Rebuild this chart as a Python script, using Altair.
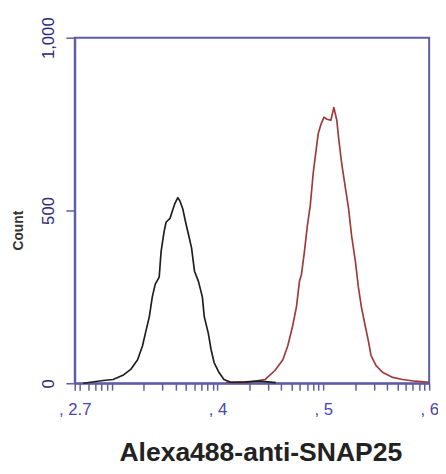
import altair as alt
import numpy as np
import pandas as pd

# log10 fluorescence intensity and event counts
black_x = [2.73, 2.919, 3.012, 3.105, 3.179, 3.244, 3.290, 3.318, 3.355, 3.383, 3.411, 3.448,
           3.466, 3.494, 3.513, 3.550, 3.568, 3.596, 3.624, 3.643, 3.670, 3.698, 3.726, 3.754,
           3.782, 3.819, 3.856, 3.874, 3.912, 3.939, 3.967, 4.014, 4.060, 4.125, 4.26, 4.40, 4.55]
black_y = [0, 8, 11, 23, 40, 68, 108, 145, 193, 250, 287, 307,
           381, 438, 466, 477, 494, 520, 537, 528, 506, 466, 429, 392,
           324, 295, 250, 193, 145, 97, 60, 31, 11, 3, 4, 6, 2]

red_x = [4.079, 4.264, 4.450, 4.542, 4.617, 4.663, 4.709, 4.746, 4.774, 4.793, 4.821, 4.849,
         4.876, 4.904, 4.932, 4.951, 4.978, 5.006, 5.034, 5.071, 5.099, 5.127, 5.146, 5.173,
         5.210, 5.238, 5.266, 5.303, 5.331, 5.359, 5.396, 5.424, 5.451, 5.498, 5.563, 5.656,
         5.748, 5.869, 6.0]
red_y = [3, 2, 11, 37, 68, 108, 165, 222, 295, 315, 381, 457,
         514, 608, 676, 722, 750, 770, 764, 761, 798, 761, 705, 636,
         562, 506, 429, 352, 278, 222, 165, 125, 80, 51, 31, 17,
         11, 6, 3]

x_min, x_max = 2.65, 6.0
y_ticks = [0, 500, 1000]
left_label = ", 2.7"

minor = [x_min] + [float(np.log10(m * 10.0 ** d)) for d in range(2, 6) for m in range(1, 10)
                   if x_min < np.log10(m * 10.0 ** d) < x_max - 1e-9] + [x_max]

df = pd.concat([
    pd.DataFrame({"x": red_x, "y": red_y, "s": "red"}),
    pd.DataFrame({"x": black_x, "y": black_y, "s": "black"}),
])

axis_col = "#5c5ca8"

xscale = alt.Scale(domain=[x_min, x_max], nice=False, zero=False)
yscale = alt.Scale(domain=[0, 1000], nice=False)

label_expr = ("datum.value < 2.66 ? '" + left_label + "' : "
              "((datum.value > 3.5 && abs(datum.value - round(datum.value)) < 0.001) ? ', ' + round(datum.value) : '')")

xaxis = alt.Axis(values=minor, labelExpr=label_expr, grid=False, tickSize=7, tickColor=axis_col,
                 tickWidth=1.5, domainColor=axis_col, domainWidth=2, labelColor="#4646b0",
                 labelFontSize=17, labelFont="Liberation Sans", labelBaseline="top",
                 labelPadding=12, labelOverlap=False, labelFlush=False,
                 title="Alexa488-anti-SNAP25", titleFont="Liberation Sans", titleFontSize=27,
                 titleFontWeight="bold", titleColor="#222222", titleX=189, titleY=71,
                 titleAlign="center", titleBaseline="middle")

yaxis = alt.Axis(values=y_ticks, format=",d", grid=False, tickSize=9, tickColor=axis_col,
                 tickWidth=1.5, domainColor=axis_col, domainWidth=2, labelColor="#2a2a80",
                 labelFontSize=17, labelFont="Liberation Sans", labelAngle=-90,
                 labelAlign="center", labelBaseline="bottom", labelPadding=9,
                 labelOverlap=False, labelFlush=False,
                 title="Count", titleFont="Liberation Sans", titleFontSize=14,
                 titleFontWeight="bold", titleColor="#333333", titleAngle=-90,
                 titleX=-57, titleY=196, titleAlign="center", titleBaseline="middle")

chart = alt.Chart(df).mark_line(strokeWidth=1.7, strokeJoin="round").encode(
    x=alt.X("x:Q", scale=xscale, axis=xaxis),
    y=alt.Y("y:Q", scale=yscale, axis=yaxis),
    color=alt.Color("s:N", scale=alt.Scale(domain=["red", "black"], range=["#a03a3a", "#1e1e1e"]),
                    legend=None),
    detail="s:N",
    order=alt.Order("x:Q"),
).properties(
    width=361, height=352,
    background="white",
    autosize=alt.AutoSizeParams(type="none"),
    padding={"left": 68, "top": 26, "right": 9, "bottom": 80},
).configure_view(stroke=axis_col, strokeWidth=2)

chart.save("out.html", embed_options={"renderer": "svg", "actions": False})
